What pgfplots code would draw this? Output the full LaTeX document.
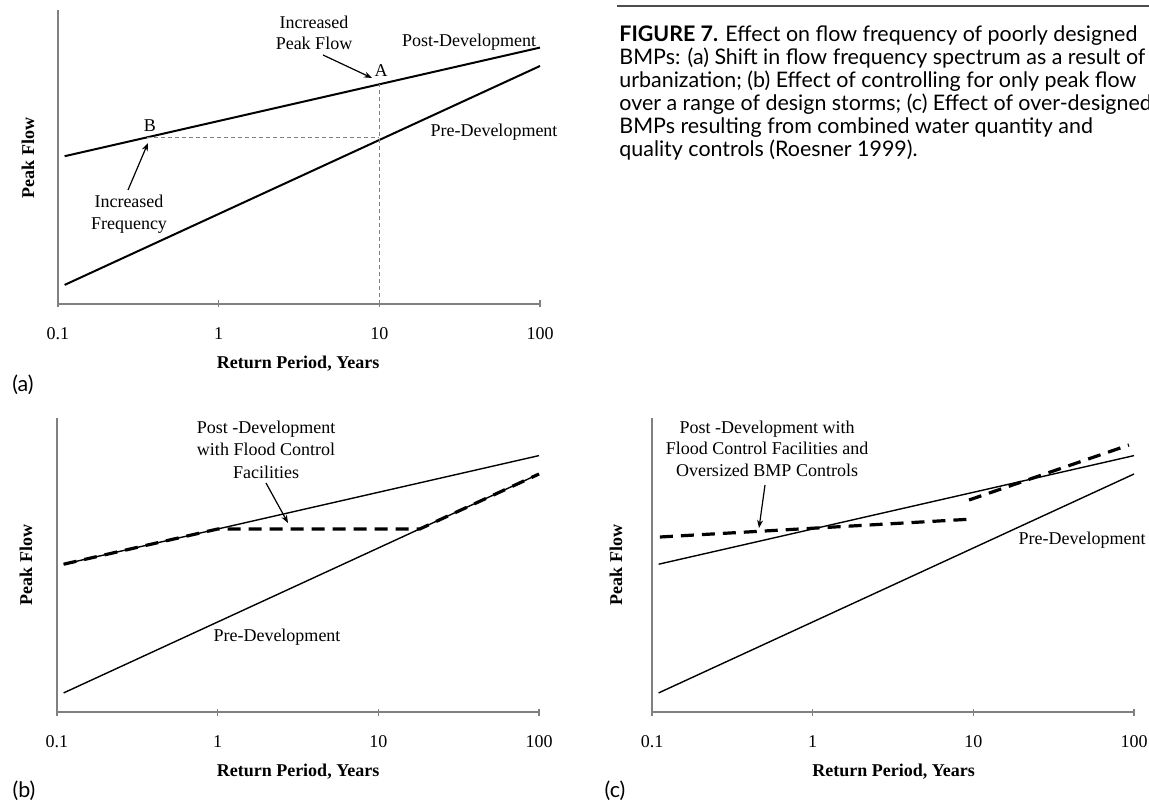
\documentclass[border=0pt]{standalone}
\usepackage{fontspec}
\setmainfont{Liberation Serif}
\newfontfamily\capfont{Lato}
\usepackage{graphicx}
\usepackage{pgfplots}
\pgfplotsset{compat=1.18}
\usetikzlibrary{arrows.meta}
\newlength\capw
\pgfplotsset{panel/.style={
  scale only axis, width=241pt, height=147pt,
  xmin=0.1, xmax=100, ymin=0, ymax=294,
  axis x line*=bottom, axis y line*=left,
  axis line style={-, gray, line width=0.7pt},
  xtick={0.1,1,10,100}, xticklabels={0.1,1,10,100},
  xminorticks=false, ytick=\empty,
  tick align=center, major tick length=3.5pt,
  every tick/.style={gray, line width=0.6pt},
  xticklabel style={anchor=base, yshift=-16pt},
  clip=false,
}}
\begin{document}
\settowidth\capw{\capfont\fontsize{9.5}{11.3}\selectfont\textbf{FIGURE 7.} Effect on flow frequency of poorly designed}%
\pgfmathsetmacro\capr{259pt/\capw}%
\newcommand\captxt[1]{\scalebox{\capr}{\capfont\fontsize{9.5}{11.3}\selectfont #1}}%
\fontsize{9}{10.5}\selectfont
\begin{tikzpicture}
\useasboundingbox (0,0) rectangle (574.5pt,402pt);

% ---------- panel (a)
\begin{semilogxaxis}[panel, at={(29pt,250pt)}, anchor=south west]
 \addplot[black, line width=1pt] coordinates {(0.11,147.8) (100,256.4)};
 \addplot[black, line width=1pt] coordinates {(0.11,19.1) (100,238)};
 \addplot[gray, line width=0.5pt, dash pattern=on 2pt off 1.5pt] coordinates {(0.36,166) (10,166)};
 \addplot[gray, line width=0.5pt, dash pattern=on 2pt off 1.5pt] coordinates {(10,0) (10,219.7)};
\end{semilogxaxis}
\node[anchor=base] at (157pt,387.5pt) {Increased};
\node[anchor=base] at (157pt,377pt) {Peak Flow};
\node[anchor=base] at (190.5pt,363.5pt) {A};
\node[anchor=base] at (234.5pt,378.5pt) {Post-Development};
\node[anchor=base] at (75pt,336pt) {B};
\node[anchor=base] at (64.5pt,298pt) {Increased};
\node[anchor=base] at (64.5pt,287pt) {Frequency};
\node[anchor=base] at (247pt,333.5pt) {Pre-Development};
\draw[-{Stealth[length=4pt,width=3pt]}, line width=0.6pt] (161.5pt,374.5pt) -- (186pt,363pt);
\draw[-{Stealth[length=4pt,width=3pt]}, line width=0.6pt] (64pt,307pt) -- (74pt,330.5pt);
\node[rotate=90, font=\bfseries] at (14pt,323pt) {Peak Flow};
\node[anchor=base, font=\bfseries] at (149pt,218pt) {Return Period, Years};
\node at (11.5pt,209.5pt) {\captxt{(a)}};

% ---------- panel (b)
\begin{semilogxaxis}[panel, at={(28.5pt,46pt)}, anchor=south west]
 \addplot[black, line width=0.7pt] coordinates {(0.11,147.8) (100,256.4)};
 \addplot[black, line width=0.7pt] coordinates {(0.11,19.1) (100,238)};
 \addplot[black, line width=1.6pt, dash pattern=on 6.5pt off 4pt] coordinates {(0.11,147.8) (1,183) (18.1,183) (100,238)};
\end{semilogxaxis}
\node[anchor=base] at (133pt,185.5pt) {Post -Development};
\node[anchor=base] at (133pt,174.5pt) {with Flood Control};
\node[anchor=base] at (133pt,163pt) {Facilities};
\draw[-{Stealth[length=4pt,width=3pt]}, line width=0.6pt] (133pt,160.5pt) -- (144pt,140.5pt);
\node[anchor=base] at (138.5pt,81.5pt) {Pre-Development};
\node[rotate=90, font=\bfseries] at (13pt,119.5pt) {Peak Flow};
\node[anchor=base, font=\bfseries] at (149pt,14pt) {Return Period, Years};
\node at (12pt,6.5pt) {\captxt{(b)}};

% ---------- panel (c)
\begin{semilogxaxis}[panel, at={(326pt,46pt)}, anchor=south west]
 \addplot[black, line width=0.7pt] coordinates {(0.11,147.8) (100,256.4)};
 \addplot[black, line width=0.7pt] coordinates {(0.11,19.1) (100,238)};
 \addplot[black, line width=1.6pt, dash pattern=on 6.5pt off 4pt] coordinates {(0.112,175) (10,193)};
 \addplot[black, line width=1.6pt, dash pattern=on 6.5pt off 4pt] coordinates {(9.4,212) (93,267)};
\end{semilogxaxis}
\node[anchor=base] at (383.5pt,185.5pt) {Post -Development with};
\node[anchor=base] at (383.5pt,175pt) {Flood Control Facilities and};
\node[anchor=base] at (383.5pt,164pt) {Oversized BMP Controls};
\draw[-{Stealth[length=4pt,width=3pt]}, line width=0.6pt] (382.5pt,159.5pt) -- (379.5pt,138pt);
\node[anchor=base] at (541pt,130pt) {Pre-Development};
\node[rotate=90, font=\bfseries] at (308pt,119.5pt) {Peak Flow};
\node[anchor=base, font=\bfseries] at (446.75pt,14pt) {Return Period, Years};
\node at (307.5pt,6.5pt) {\captxt{(c)}};

% ---------- caption
\draw[line width=1pt, gray!60!black] (308.5pt,399pt) -- (574.5pt,399pt);
\node[anchor=base west, inner sep=0pt] at (309.5pt,381pt) {\captxt{\textbf{FIGURE 7.} Effect on flow frequency of poorly designed}};
\node[anchor=base west, inner sep=0pt] at (309.5pt,369.5pt) {\captxt{BMPs: (a) Shift in flow frequency spectrum as a result of}};
\node[anchor=base west, inner sep=0pt] at (309.5pt,358pt) {\captxt{urbanization; (b) Effect of controlling for only peak flow}};
\node[anchor=base west, inner sep=0pt] at (309.5pt,346.5pt) {\captxt{over a range of design storms; (c) Effect of over-designed}};
\node[anchor=base west, inner sep=0pt] at (309.5pt,335pt) {\captxt{BMPs resulting from combined water quantity and}};
\node[anchor=base west, inner sep=0pt] at (309.5pt,323.5pt) {\captxt{quality controls (Roesner 1999).}};
\end{tikzpicture}
\end{document}
